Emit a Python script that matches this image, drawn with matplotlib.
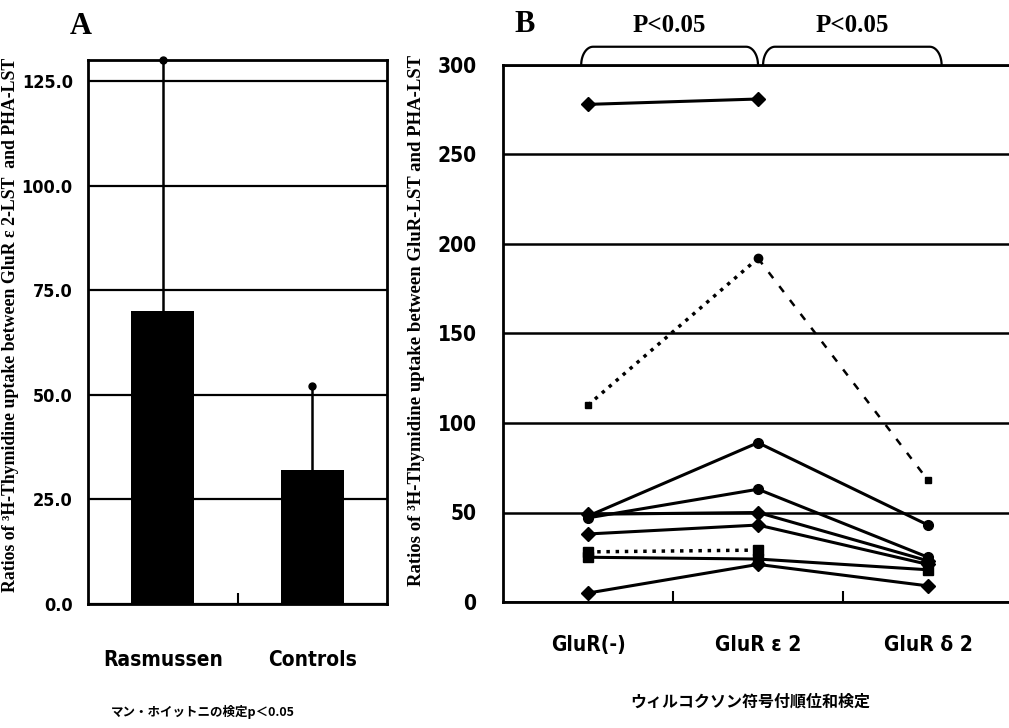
import numpy as np
import matplotlib
matplotlib.use("Agg")
import matplotlib.pyplot as plt

# panel A data
groups = ["Rasmussen", "Controls"]
means = [70, 32]
sds = [60, 20]
a_ticks = [0, 25, 50, 75, 100, 125]

# panel B data
cats = ["GluR(-)", "GluR ε 2", "GluR δ 2"]
s_top = [278, 281, np.nan]
s_dot = [110, 192, 68]
s_c1 = [48, 89, 43]
s_c2 = [47, 63, 25]
s_d1 = [49, 50, 23]
s_d2 = [38, 43, 21]
s_sq_dot = [28, 29, np.nan]
s_sq = [25, 24, 18]
s_low = [5, 21, 9]
b_ticks = [0, 50, 100, 150, 200, 250, 300]

narrow = dict(fontfamily="DejaVu Sans", fontstretch="condensed", fontweight="bold")
serif = ["Liberation Serif", "DejaVu Serif"]
jp = ["Noto Sans CJK JP", "DejaVu Sans"]

fig = plt.figure(figsize=(10.09, 7.28), dpi=100)

# ---------------- A ----------------
ax = fig.add_axes([88/1009, 124/728, 299/1009, 544/728])
x = np.arange(len(groups))
ax.bar(x, means, width=0.42, color="black", zorder=3)
ax.errorbar(x, means, yerr=[[0, 0], sds], fmt="none", ecolor="black",
            elinewidth=1.8, capsize=0, zorder=2)
ax.plot(x, np.array(means) + np.array(sds), "o", color="black", ms=5,
        zorder=4, clip_on=False)
ax.set_xlim(-0.5, 1.5)
ax.set_ylim(0, 130)
ax.set_yticks(a_ticks, [f"{v:.1f}" for v in a_ticks], fontsize=13, **narrow)
ax.tick_params(axis="y", length=0, pad=11)
ax.set_xticks(x, groups, fontsize=15, **narrow)
ax.tick_params(axis="x", which="major", length=0, pad=33)
ax.set_xticks([0.5], minor=True)
ax.tick_params(axis="x", which="minor", direction="in", length=8, width=1.5)
ax.grid(axis="y", color="black", lw=1.6, zorder=1)
for s in ax.spines.values():
    s.set_linewidth(2)
ax.set_ylabel("Ratios of ³H-Thymidine uptake between GluR ε 2-LST  and PHA-LST",
              fontfamily=serif, fontweight="bold", fontsize=12.8)
ax.yaxis.set_label_coords(-0.232, 0.513)
fig.text(81/1009, 1 - 27/728, "A", fontfamily=serif, fontweight="bold",
         fontsize=22, ha="center", va="center")
fig.text(203/1009, 1 - 712/728, "マン・ホイットニの検定p＜0.05", fontfamily=jp,
         fontweight="bold", fontsize=9, ha="center", va="center")

# ---------------- B ----------------
bx = fig.add_axes([503/1009, 126/728, 510/1009, 537/728])
xb = np.arange(len(cats))
lw = 2.2
bx.plot(xb, s_top, "-D", color="black", lw=lw, ms=7, clip_on=False)
bx.plot(xb[:2], s_dot[:2], ":", color="black", lw=2.5)
bx.plot(xb[1:], s_dot[1:], "--", color="black", lw=1.8, dashes=(3, 4))
bx.plot(xb[::2], np.array(s_dot)[::2], "s", color="black", ms=5)
bx.plot(xb[1:2], s_dot[1:2], "o", color="black", ms=6)
bx.plot(xb, s_c1, "-o", color="black", lw=lw, ms=7)
bx.plot(xb, s_c2, "-o", color="black", lw=lw, ms=7)
bx.plot(xb, s_d1, "-D", color="black", lw=lw, ms=7)
bx.plot(xb, s_d2, "-D", color="black", lw=lw, ms=7)
bx.plot(xb, s_sq_dot, ":s", color="black", lw=2.5, ms=7)
bx.plot(xb, s_sq, "-s", color="black", lw=lw, ms=7)
bx.plot(xb, s_low, "-D", color="black", lw=lw, ms=7, clip_on=False)
bx.set_xlim(-0.5, 2.5)
bx.set_ylim(0, 300)
bx.set_yticks(b_ticks, [str(v) for v in b_ticks], fontsize=15, **narrow)
bx.tick_params(axis="y", length=0, pad=19)
bx.set_xticks(xb, cats, fontsize=15, **narrow)
bx.tick_params(axis="x", which="major", length=0, pad=24)
bx.set_xticks([0.5, 1.5], minor=True)
bx.tick_params(axis="x", which="minor", direction="in", length=8, width=1.5)
bx.grid(axis="y", color="black", lw=1.8, zorder=0)
for s in bx.spines.values():
    s.set_linewidth(2)
bx.spines["right"].set_visible(False)
bx.set_ylabel("Ratios of ³H-Thymidine uptake between GluR-LST and PHA-LST",
              fontfamily=serif, fontweight="bold", fontsize=13.5)
bx.yaxis.set_label_coords(-0.152, 0.525)
fig.text(525/1009, 1 - 24/728, "B", fontfamily=serif, fontweight="bold",
         fontsize=22, ha="center", va="center")
fig.text(750/1009, 1 - 702/728, "ウィルコクソン符号付順位和検定", fontfamily=jp,
         fontweight="bold", fontsize=11.5, ha="center", va="center")

# significance brackets above panel B
tr = bx.get_xaxis_transform()
rx, ry = 0.07, 0.034
t = np.linspace(0, np.pi / 2, 20)
for x0, x1 in [(-0.04, 1.0), (1.03, 2.08)]:
    lx = x0 + rx * (1 - np.cos(t))
    ly = 1 + ry * np.sin(t)
    px = np.concatenate([lx, (x0 + x1) - lx[::-1]])
    py = np.concatenate([ly, ly[::-1]])
    bx.plot(px, py, color="black", lw=1.6, transform=tr, clip_on=False)
    bx.text((x0 + x1) / 2, 1 + ry + 0.04, "P<0.05", transform=tr,
            fontfamily=serif, fontweight="bold", fontsize=18, ha="center",
            va="center")

fig.savefig("out.png", dpi=100)
